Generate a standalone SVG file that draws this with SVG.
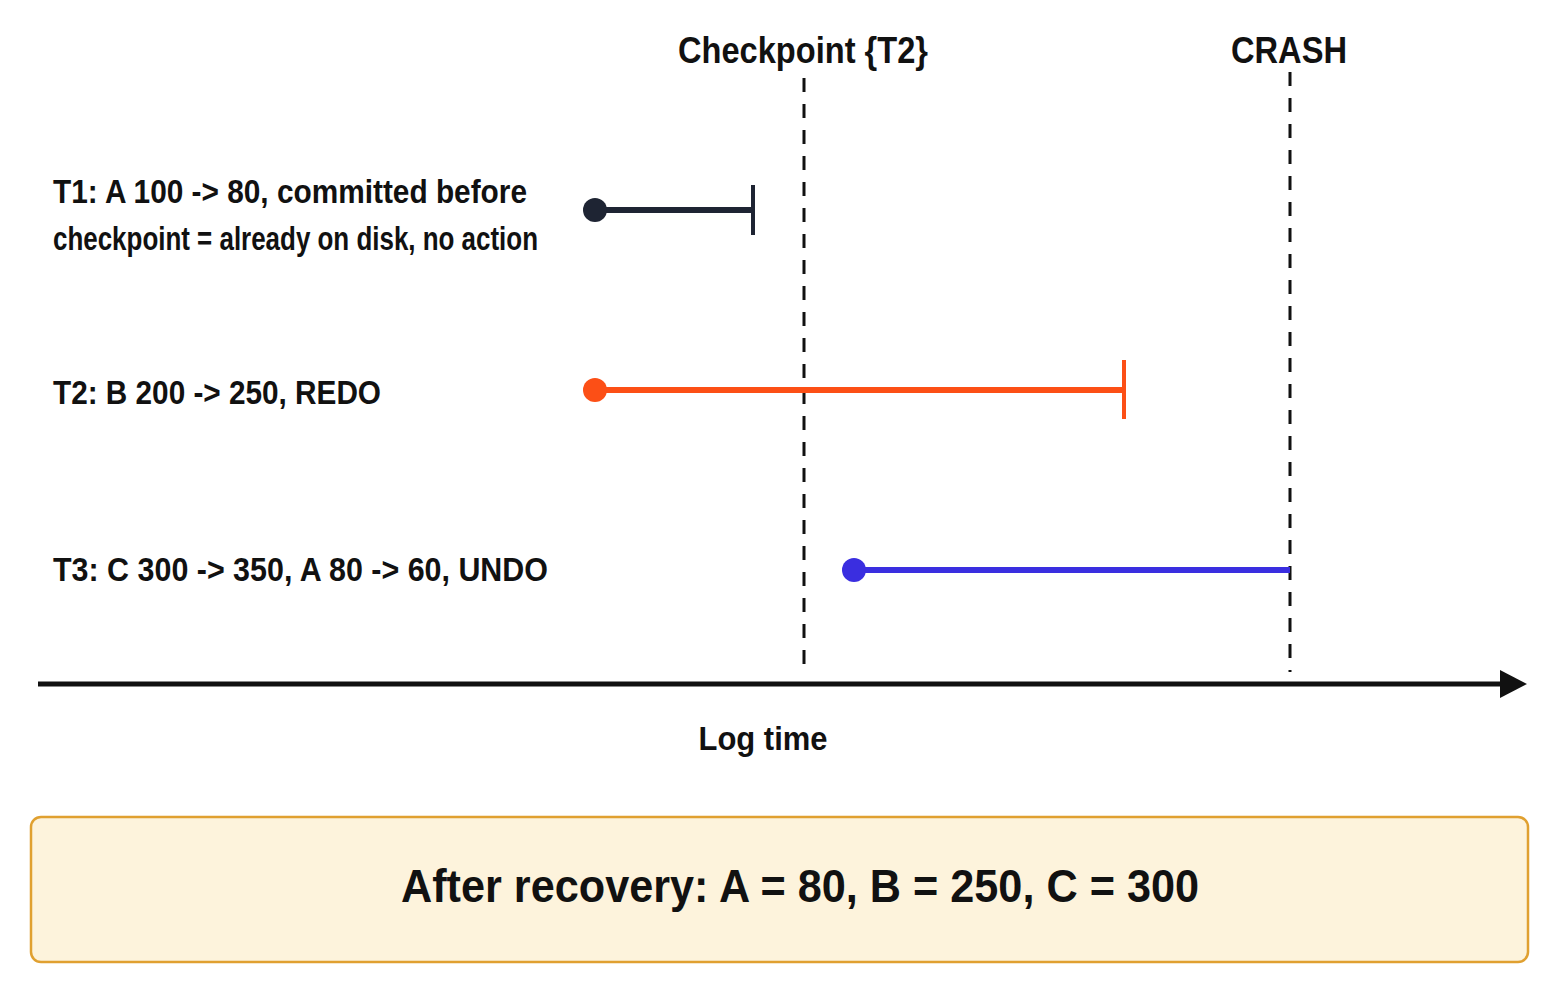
<svg xmlns="http://www.w3.org/2000/svg" width="1561" height="1007" viewBox="0 0 1561 1007">
<defs>
<style>
text{font-family:"Liberation Sans","DejaVu Sans",sans-serif;fill:#111;font-weight:bold}
.lbl{font-size:33px}
.hdr{font-size:36px}
.dash{stroke:#111;stroke-width:3;stroke-dasharray:14,12}
</style>
</defs>
<rect width="1561" height="1007" fill="#fff"/>
<g id="connectors">
<line class="dash" x1="804" y1="78" x2="804" y2="672"/>
<line class="dash" x1="1290" y1="72" x2="1290" y2="672"/>
<line x1="38" y1="684" x2="1502" y2="684" stroke="#111" stroke-width="5"/>
<polygon points="1500,670 1527,684 1500,698" fill="#111"/>
</g>
<g id="checkpoint"><text class="hdr" x="803" y="63" text-anchor="middle" textLength="250" lengthAdjust="spacingAndGlyphs">Checkpoint {T2}</text></g>
<g id="crash"><text class="hdr" x="1289" y="63" text-anchor="middle" textLength="116" lengthAdjust="spacingAndGlyphs">CRASH</text></g>
<g id="t1">
<text class="lbl" x="53" y="203" textLength="474" lengthAdjust="spacingAndGlyphs">T1: A 100 -&gt; 80, committed before</text>
<text class="lbl" x="53" y="250" textLength="485" lengthAdjust="spacingAndGlyphs">checkpoint = already on disk, no action</text>
<line x1="595" y1="210" x2="753" y2="210" stroke="#1e2433" stroke-width="6"/>
<line x1="753" y1="185" x2="753" y2="235" stroke="#1e2433" stroke-width="4"/>
<circle cx="595" cy="210" r="12" fill="#1e2433"/>
</g>
<g id="t2">
<text class="lbl" x="53" y="404" textLength="328" lengthAdjust="spacingAndGlyphs">T2: B 200 -&gt; 250, REDO</text>
<line x1="595" y1="390" x2="1124" y2="390" stroke="#fc4f16" stroke-width="6"/>
<line x1="1124" y1="360" x2="1124" y2="419" stroke="#fc4f16" stroke-width="4"/>
<circle cx="595" cy="390" r="12" fill="#fc4f16"/>
</g>
<g id="t3">
<text class="lbl" x="53" y="581" textLength="495" lengthAdjust="spacingAndGlyphs">T3: C 300 -&gt; 350, A 80 -&gt; 60, UNDO</text>
<line x1="854" y1="570" x2="1290" y2="570" stroke="#3a2ee0" stroke-width="6"/>
<circle cx="854" cy="570" r="12" fill="#3a2ee0"/>
</g>
<g id="logtime"><text class="lbl" x="763" y="750" text-anchor="middle" textLength="129" lengthAdjust="spacingAndGlyphs">Log time</text></g>
<g id="result">
<rect x="31" y="817" width="1497" height="145" rx="10" fill="#fdf3dc" stroke="#e0a030" stroke-width="2.5"/>
<text x="800" y="902" text-anchor="middle" font-size="46" textLength="798" lengthAdjust="spacingAndGlyphs">After recovery: A = 80, B = 250, C = 300</text>
</g>
</svg>
